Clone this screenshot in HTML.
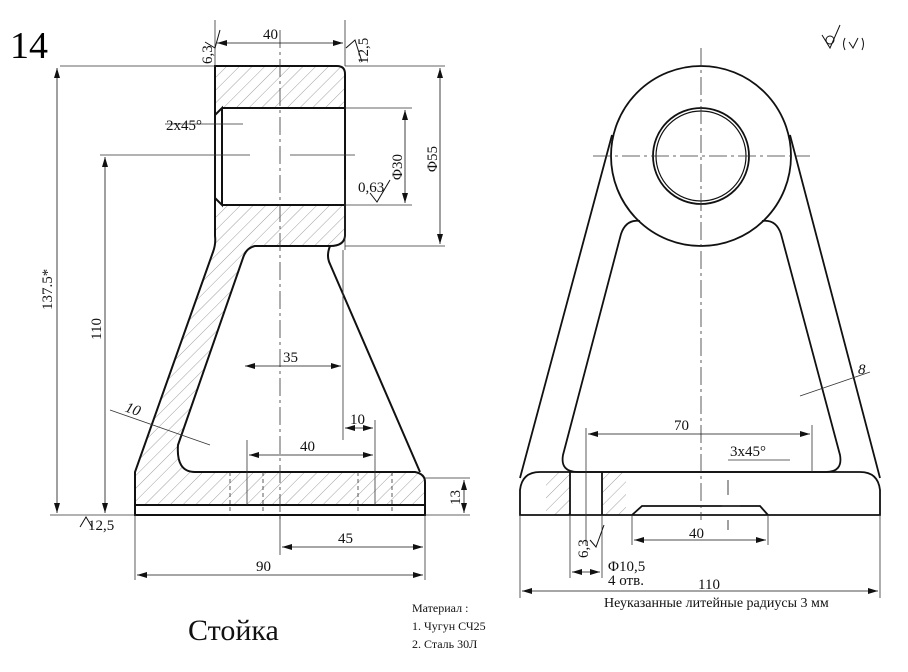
<!DOCTYPE html>
<html><head><meta charset="utf-8"><style>
html,body{margin:0;padding:0;background:#fff;}
svg{display:block;font-family:"Liberation Serif",serif;}
</style></head><body>
<svg width="908" height="672" viewBox="0 0 908 672" xmlns="http://www.w3.org/2000/svg">
<defs>
<pattern id="h" width="9" height="9" patternUnits="userSpaceOnUse" patternTransform="rotate(45)">
<line x1="0" y1="0" x2="0" y2="9" stroke="#888" stroke-width="0.8"/>
</pattern>
<marker id="a" viewBox="0 0 10 6" refX="10" refY="3" markerWidth="10" markerHeight="6" orient="auto-start-reverse" markerUnits="userSpaceOnUse"><path d="M0,0L10,3L0,6z" fill="#111"/></marker>
</defs>
<rect width="908" height="672" fill="#fff"/>
<text x="10" y="58" font-size="38">14</text>

<!-- LEFT VIEW -->
<g stroke="#111" fill="none" stroke-width="2">
<path d="M215,66 H337 Q345,66 345,74 V108 H215 Z" fill="url(#h)" stroke="none"/>
<path d="M215,205 H345 V236 Q342,246 330,246 H255 Q248,248 244,258 L178,445 Q176,472 195,472 H425 V505 H135 V472 L213,250 Q215,240 215,230 Z" fill="url(#h)" stroke="none"/>
<path d="M215,66 H337 Q345,66 345,74 V236 Q344,246 330,246 H255 Q246,248 243,258 L178,445 Q176,472 195,472 H415 Q425,474 425,482 V515 H135 V472 L213,252 Q216,244 215,236 Z"/>
<path d="M330,246 Q326,256 330,264 L420,472"/>
<line x1="135" y1="505" x2="425" y2="505"/>
<path d="M222,108 H345 M222,205 H345 M215,115 L222,108 V205 L215,198"/>
</g>
<g stroke="#333" stroke-width="0.8" fill="none">
<path d="M230,472V515 M263,472V515 M358,472V515 M392,472V515" stroke-dasharray="4,3"/>
<path d="M280,30V520" stroke-dasharray="18,4,3,4"/>
<line x1="60" y1="66" x2="215" y2="66"/><line x1="345" y1="66" x2="445" y2="66"/>
<line x1="100" y1="155" x2="250" y2="155"/><line x1="290" y1="155" x2="355" y2="155"/>
<line x1="345" y1="108" x2="412" y2="108"/><line x1="345" y1="205" x2="412" y2="205"/>
<line x1="345" y1="246" x2="445" y2="246"/>
<line x1="215" y1="20" x2="215" y2="66"/><line x1="345" y1="20" x2="345" y2="66"/>
<line x1="50" y1="515" x2="135" y2="515"/><line x1="425" y1="478" x2="470" y2="478"/><line x1="425" y1="515" x2="470" y2="515"/>
<line x1="135" y1="515" x2="135" y2="580"/><line x1="425" y1="515" x2="425" y2="580"/>
<line x1="280" y1="515" x2="280" y2="555"/>
<line x1="247" y1="440" x2="247" y2="505"/><line x1="375" y1="420" x2="375" y2="505"/><line x1="343" y1="250" x2="343" y2="440"/>
<line x1="345" y1="180" x2="345" y2="250"/>
<line x1="110" y1="410" x2="210" y2="445"/>
<line x1="165" y1="124" x2="243" y2="124"/>
</g>
<g stroke="#111" stroke-width="0.8" marker-start="url(#a)" marker-end="url(#a)">
<line x1="217" y1="43" x2="343" y2="43"/>
<line x1="57" y1="68" x2="57" y2="513"/>
<line x1="105" y1="157" x2="105" y2="513"/>
<line x1="405" y1="110" x2="405" y2="203"/>
<line x1="440" y1="68" x2="440" y2="244"/>
<line x1="464" y1="480" x2="464" y2="513"/>
<line x1="137" y1="575" x2="423" y2="575"/>
<line x1="282" y1="547" x2="423" y2="547"/>
<line x1="249" y1="455" x2="373" y2="455"/>
<line x1="245" y1="366" x2="341" y2="366"/>
<line x1="345" y1="428" x2="373" y2="428"/>
</g>
<g font-size="15" fill="#111">
<text x="263" y="39">40</text>
<text x="166" y="130">2x45°</text>
<text x="283" y="362">35</text>
<text x="300" y="451">40</text>
<text x="350" y="424">10</text>
<text x="125" y="413" font-style="italic" transform="rotate(20 130 410)">10</text>
<text x="256" y="571">90</text>
<text x="338" y="543">45</text>
<text x="88" y="530">12,5</text>
<text x="358" y="192">0,63</text>
<text transform="translate(52,310) rotate(-90)">137.5*</text>
<text transform="translate(101,340) rotate(-90)">110</text>
<text transform="translate(402,180) rotate(-90)">Φ30</text>
<text transform="translate(437,172) rotate(-90)">Φ55</text>
<text transform="translate(460,505) rotate(-90)">13</text>
<text transform="translate(212,64) rotate(-90)">6,3</text>
<text transform="translate(368,64) rotate(-90)">12,5</text>
</g>
<g stroke="#111" stroke-width="1" fill="none">
<path d="M205,42 L215,48 L220,30"/><path d="M346,48 L355,40 L362,62"/>
<path d="M80,527 L86,517 L92,527"/><path d="M370,193 L377,202 L390,180"/>
</g>

<!-- RIGHT VIEW -->
<g stroke="#111" fill="none" stroke-width="1.8">
<path d="M546,472H570V515H546Z M602,472H626V515H602Z" fill="url(#h)" stroke="none"/>
<circle cx="701" cy="156" r="90"/>
<circle cx="701" cy="156" r="48"/><circle cx="701" cy="156" r="45" stroke-width="1.2"/>
<path d="M612,135 L520,478"/><path d="M790,135 L880,478"/>
<path d="M640,221 Q626,219 621,234 L563,455 Q560,472 578,472 H826 Q843,472 840,455 L781,234 Q776,219 762,221"/>
<path d="M520,515 V490 Q522,472 540,472 H860 Q878,472 880,490 V515 Z"/>
<path d="M570,472V515 M602,472V515"/>
<path d="M632,515 L642,506 H760 L768,515"/>
</g>
<g stroke="#333" stroke-width="0.8" fill="none">
<path d="M701,48V520" stroke-dasharray="18,4,3,4"/>
<path d="M593,156H810" stroke-dasharray="18,4,3,4"/>
<line x1="586" y1="428" x2="586" y2="545"/><line x1="812" y1="425" x2="812" y2="472"/>
<line x1="632" y1="515" x2="632" y2="545"/><line x1="768" y1="515" x2="768" y2="545"/>
<line x1="570" y1="515" x2="570" y2="578"/><line x1="602" y1="515" x2="602" y2="578"/>
<line x1="520" y1="515" x2="520" y2="598"/><line x1="880" y1="515" x2="880" y2="598"/>
<line x1="728" y1="460" x2="790" y2="460"/><line x1="722" y1="506" x2="740" y2="506"/>
<line x1="800" y1="396" x2="870" y2="372"/>
</g>
<g stroke="#111" stroke-width="0.8" marker-start="url(#a)" marker-end="url(#a)">
<line x1="588" y1="434" x2="810" y2="434"/>
<line x1="634" y1="540" x2="766" y2="540"/>
<line x1="522" y1="591" x2="878" y2="591"/>
<line x1="572" y1="572" x2="600" y2="572"/>
</g>
<g stroke="#111" stroke-width="0.8" fill="none">
<line x1="728" y1="480" x2="728" y2="495"/><line x1="728" y1="520" x2="728" y2="530"/>
</g>
<g font-size="15" fill="#111">
<text x="674" y="430">70</text>
<text x="730" y="456">3x45°</text>
<text x="689" y="538">40</text>
<text x="608" y="571">Φ10,5</text>
<text x="608" y="585">4 отв.</text>
<text x="698" y="589">110</text>
<text x="604" y="607" font-size="14">Неуказанные литейные радиусы 3 мм</text>
<text x="858" y="374" font-style="italic">8</text>
<text transform="translate(588,558) rotate(-90)">6,3</text>
</g>
<path d="M590,540 L596,547 L604,525" stroke="#111" fill="none"/>
<g stroke="#111" stroke-width="1" fill="none">
<path d="M822,35 L830,48 L840,25"/><circle cx="830" cy="40" r="4"/>
<path d="M845,38 Q842,44 845,50 M849,42 L853,48 L858,38 M862,38 Q865,44 862,50"/>
</g>
<text x="188" y="640" font-size="30" fill="#111">Стойка</text>
<g font-size="12" fill="#111">
<text x="412" y="612">Материал :</text>
<text x="412" y="630">1. Чугун СЧ25</text>
<text x="412" y="648">2. Сталь 30Л</text>
</g>
</svg>
</body></html>
